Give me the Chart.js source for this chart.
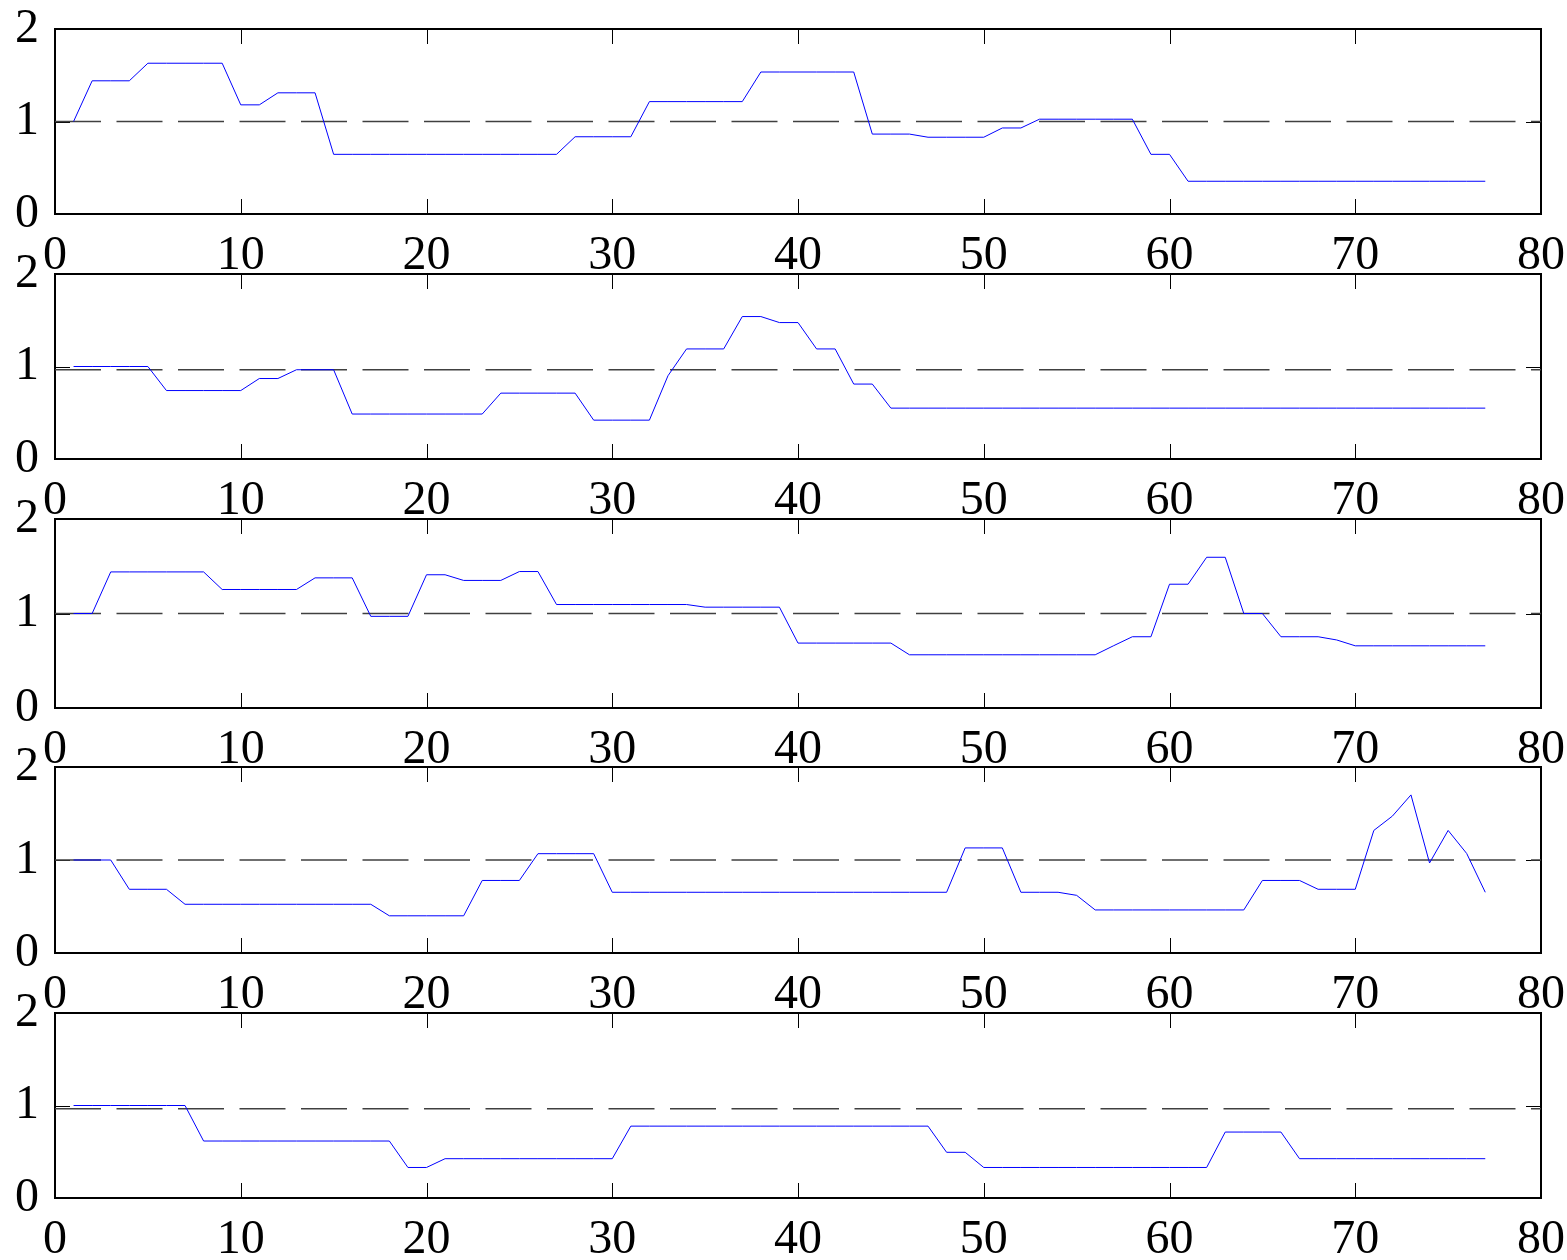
<!DOCTYPE html>
<html>
<head>
<meta charset="utf-8">
<script src="https://cdn.jsdelivr.net/npm/chart.js@4/dist/chart.umd.min.js"></script>
<style>
  html, body { margin: 0; padding: 0; background: #fff; }
  #wrap { position: relative; width: 1567px; height: 1260px; overflow: hidden; }
  #wrap canvas { position: absolute; left: 0; }
</style>
</head>
<body>
<div id="wrap"></div>
<script>
// Sample index shared by all five traces
const sampleIndex = Array.from({ length: 77 }, (_, i) => i + 1);

// Axis ticks
const xTickValues = [0, 10, 20, 30, 40, 50, 60, 70, 80];
const yTickValues = [0, 1, 2];

// Traces (one per panel, top to bottom)
const trace1 = [
  1.0, 1.44, 1.44, 1.44, 1.63, 1.63, 1.63, 1.63, 1.63, 1.18,
  1.18, 1.31, 1.31, 1.31, 0.645, 0.645, 0.645, 0.645, 0.645, 0.645,
  0.645, 0.645, 0.645, 0.645, 0.645, 0.645, 0.645, 0.835, 0.835, 0.835,
  0.835, 1.215, 1.215, 1.215, 1.215, 1.215, 1.215, 1.535, 1.535, 1.535,
  1.535, 1.535, 1.535, 0.864, 0.864, 0.864, 0.83, 0.83, 0.83, 0.83,
  0.93, 0.93, 1.025, 1.025, 1.025, 1.025, 1.025, 1.025, 0.645, 0.645,
  0.354, 0.354, 0.354, 0.354, 0.354, 0.354, 0.354, 0.354, 0.354, 0.354,
  0.354, 0.354, 0.354, 0.354, 0.354, 0.354, 0.354
];
const trace2 = [
  1.0, 1.0, 1.0, 1.0, 1.0, 0.74, 0.74, 0.74, 0.74, 0.74,
  0.87, 0.87, 0.965, 0.965, 0.965, 0.486, 0.486, 0.486, 0.486, 0.486,
  0.486, 0.486, 0.486, 0.712, 0.712, 0.712, 0.712, 0.712, 0.42, 0.42,
  0.42, 0.42, 0.9, 1.19, 1.19, 1.19, 1.54, 1.54, 1.475, 1.475,
  1.19, 1.19, 0.81, 0.81, 0.55, 0.55, 0.55, 0.55, 0.55, 0.55,
  0.55, 0.55, 0.55, 0.55, 0.55, 0.55, 0.55, 0.55, 0.55, 0.55,
  0.55, 0.55, 0.55, 0.55, 0.55, 0.55, 0.55, 0.55, 0.55, 0.55,
  0.55, 0.55, 0.55, 0.55, 0.55, 0.55, 0.55
];
const trace3 = [
  1.0, 1.0, 1.44, 1.44, 1.44, 1.44, 1.44, 1.44, 1.254, 1.254,
  1.254, 1.254, 1.254, 1.377, 1.377, 1.377, 0.97, 0.97, 0.97, 1.41,
  1.41, 1.35, 1.35, 1.35, 1.444, 1.444, 1.095, 1.095, 1.095, 1.095,
  1.095, 1.095, 1.095, 1.095, 1.067, 1.067, 1.067, 1.067, 1.067, 0.687,
  0.687, 0.687, 0.687, 0.687, 0.687, 0.563, 0.563, 0.563, 0.563, 0.563,
  0.563, 0.563, 0.563, 0.563, 0.563, 0.563, 0.66, 0.754, 0.754, 1.31,
  1.31, 1.595, 1.595, 1.0, 1.0, 0.754, 0.754, 0.754, 0.72, 0.658,
  0.658, 0.658, 0.658, 0.658, 0.658, 0.658, 0.658
];
const trace4 = [
  1.0, 1.0, 1.0, 0.685, 0.685, 0.685, 0.524, 0.524, 0.524, 0.524,
  0.524, 0.524, 0.524, 0.524, 0.524, 0.524, 0.524, 0.4, 0.4, 0.4,
  0.4, 0.4, 0.78, 0.78, 0.78, 1.068, 1.068, 1.068, 1.068, 0.653,
  0.653, 0.653, 0.653, 0.653, 0.653, 0.653, 0.653, 0.653, 0.653, 0.653,
  0.653, 0.653, 0.653, 0.653, 0.653, 0.653, 0.653, 0.653, 1.13, 1.13,
  1.13, 0.653, 0.653, 0.653, 0.62, 0.463, 0.463, 0.463, 0.463, 0.463,
  0.463, 0.463, 0.463, 0.463, 0.78, 0.78, 0.78, 0.685, 0.685, 0.685,
  1.318, 1.472, 1.7, 0.968, 1.318, 1.07, 0.653
];
const trace5 = [
  1.0, 1.0, 1.0, 1.0, 1.0, 1.0, 1.0, 0.616, 0.616, 0.616,
  0.616, 0.616, 0.616, 0.616, 0.616, 0.616, 0.616, 0.616, 0.33, 0.33,
  0.425, 0.425, 0.425, 0.425, 0.425, 0.425, 0.425, 0.425, 0.425, 0.425,
  0.777, 0.777, 0.777, 0.777, 0.777, 0.777, 0.777, 0.777, 0.777, 0.777,
  0.777, 0.777, 0.777, 0.777, 0.777, 0.777, 0.777, 0.494, 0.494, 0.33,
  0.33, 0.33, 0.33, 0.33, 0.33, 0.33, 0.33, 0.33, 0.33, 0.33,
  0.33, 0.33, 0.713, 0.713, 0.713, 0.713, 0.425, 0.425, 0.425, 0.425,
  0.425, 0.425, 0.425, 0.425, 0.425, 0.425, 0.425
];

// Reference level drawn as a dashed line in each panel
const referenceLevels = [1.0, 0.965, 1.0, 1.0, 0.965];

const traces = [trace1, trace2, trace3, trace4, trace5];

// Panel placement on the page (plot-area top and height, in px)
const panelTops = [29, 274, 519, 767, 1013];
const panelHeights = [185, 185, 189, 186, 185];
const PAD_TOP = 30;
const X_AXIS_H = 60;
const Y_AXIS_W = 55;
const PAD_RIGHT = 26;

const tickFont = { family: "'Liberation Serif', 'Times New Roman', serif", size: 48, lineHeight: 1 };

// Box around the plot area plus short inward tick marks on all four sides
const framePlugin = {
  id: 'frame',
  beforeDatasetsDraw(chart) {
    const { ctx, chartArea: a, scales } = chart;
    const len = 15;
    ctx.save();
    ctx.strokeStyle = '#000';
    ctx.lineWidth = 1;
    ctx.beginPath();
    scales.x.ticks.forEach(t => {
      const px = Math.round(scales.x.getPixelForValue(t.value)) + 0.5;
      ctx.moveTo(px, a.bottom); ctx.lineTo(px, a.bottom - len);
      ctx.moveTo(px, a.top); ctx.lineTo(px, a.top + len);
    });
    scales.y.ticks.forEach(t => {
      const py = Math.round(scales.y.getPixelForValue(t.value)) + 0.5;
      ctx.moveTo(a.left, py); ctx.lineTo(a.left + len, py);
      ctx.moveTo(a.right, py); ctx.lineTo(a.right - len, py);
    });
    ctx.stroke();
    ctx.lineWidth = 2;
    ctx.strokeRect(a.left, a.top, a.right - a.left, a.bottom - a.top);
    ctx.restore();
  }
};

const wrap = document.getElementById('wrap');

traces.forEach((trace, k) => {
  const canvas = document.createElement('canvas');
  const h = PAD_TOP + panelHeights[k] + X_AXIS_H;
  canvas.width = 1567;
  canvas.height = h;
  canvas.style.top = (panelTops[k] - PAD_TOP) + 'px';
  canvas.style.width = '1567px';
  canvas.style.height = h + 'px';
  wrap.appendChild(canvas);

  const ref = referenceLevels[k];

  new Chart(canvas, {
    type: 'line',
    data: {
      datasets: [
        {
          data: trace.map((v, i) => ({ x: sampleIndex[i], y: v })),
          borderColor: '#0000ff',
          borderWidth: 1,
          pointRadius: 0,
          tension: 0,
          fill: false
        },
        {
          data: [
            { x: xTickValues[0], y: ref },
            { x: xTickValues[xTickValues.length - 1], y: ref }
          ],
          borderColor: '#404040',
          borderWidth: 1.5,
          borderDash: [46, 15.5],
          pointRadius: 0,
          fill: false
        }
      ]
    },
    options: {
      responsive: false,
      animation: false,
      devicePixelRatio: 1,
      events: [],
      layout: { padding: { top: PAD_TOP, right: PAD_RIGHT, bottom: 0, left: 0 } },
      plugins: { legend: { display: false }, tooltip: { enabled: false } },
      scales: {
        x: {
          type: 'linear',
          min: xTickValues[0],
          max: xTickValues[xTickValues.length - 1],
          afterBuildTicks(s) { s.ticks = xTickValues.map(v => ({ value: v })); },
          ticks: { font: tickFont, color: '#000', padding: 18, maxRotation: 0, autoSkip: false },
          grid: { display: false, drawTicks: false },
          border: { display: false },
          afterFit(s) {
            s.height = X_AXIS_H;
            s.paddingLeft = 0; s.paddingRight = 0;
          }
        },
        y: {
          type: 'linear',
          min: yTickValues[0],
          max: yTickValues[yTickValues.length - 1],
          afterBuildTicks(s) { s.ticks = yTickValues.map(v => ({ value: v })); },
          ticks: { font: tickFont, color: '#000', padding: 16 },
          grid: { display: false, drawTicks: false },
          border: { display: false },
          afterFit(s) {
            s.width = Y_AXIS_W;
            s.paddingTop = 0; s.paddingBottom = 0;
          }
        }
      }
    },
    plugins: [framePlugin]
  });
});
</script>
</body>
</html>
